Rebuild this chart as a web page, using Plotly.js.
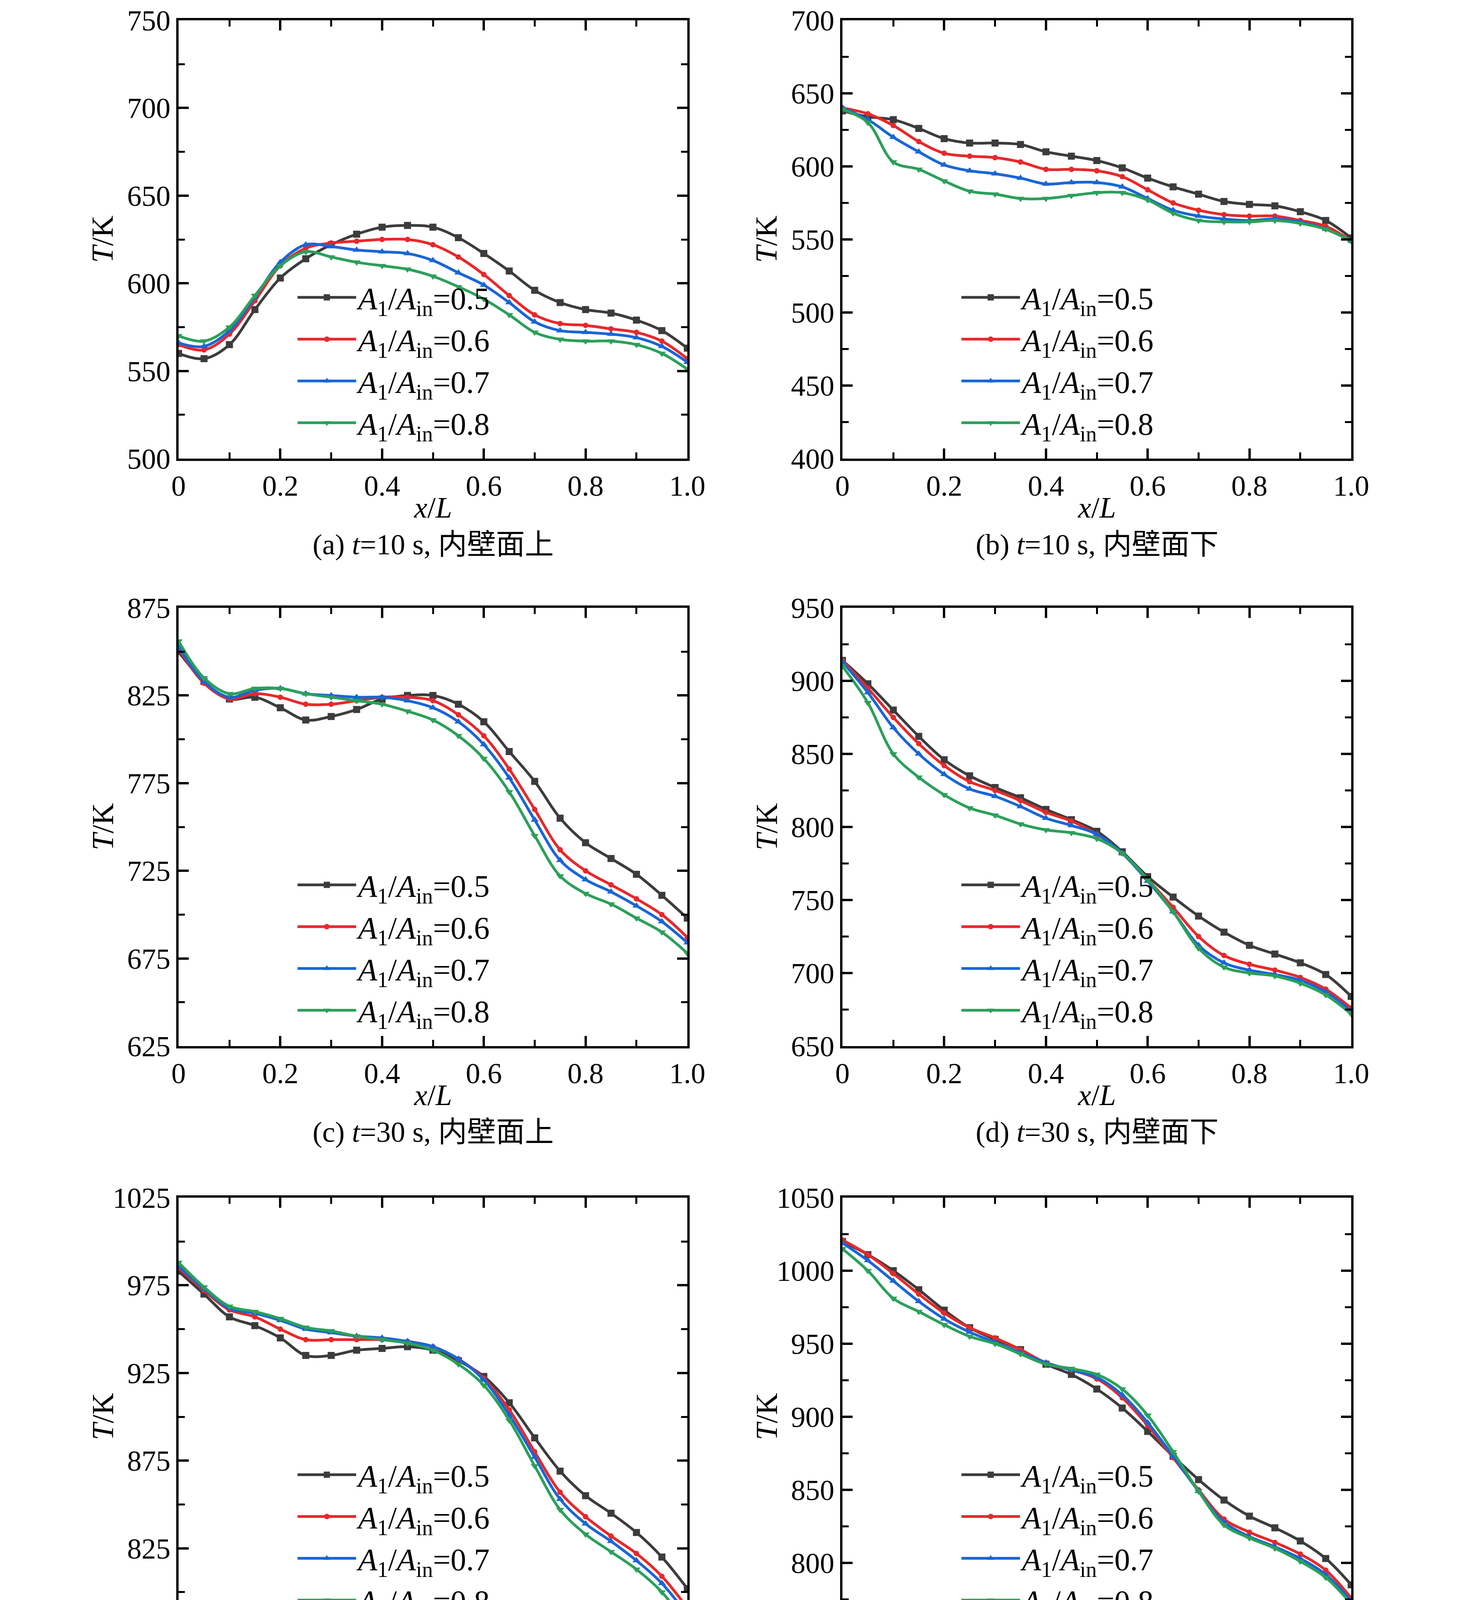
<!DOCTYPE html>
<html>
<head>
<meta charset="utf-8">
<script src="https://cdn.plot.ly/plotly-3.0.1.min.js"></script>
<style>body{margin:0;background:#fff}</style>
</head>
<body>
<div id="chart" style="width:3780px;height:7468px"></div>
<script>
var xs = [0,0.05,0.1,0.15,0.2,0.25,0.3,0.35,0.4,0.45,0.5,0.55,0.6,0.65,0.7,0.75,0.8,0.85,0.9,0.95,1.0];
var ratios = ['0.5','0.6','0.7','0.8'];
var colors = ['#3c3c3c','#e8282b','#1866d6','#2ba05a'];
var symbols = ['square','circle','triangle-up','triangle-down'];

// (a) t=10 s, upper
var a05 = [560,557,565,585,603,614,622,628,632,633,632,626,617,607,596,589,585,583,579,573,563];
var a06 = [565,562,571,590,610,620,623,624,625,625,622,615,605,593,582,577,576,574,572,567,557];
var a07 = [566,564,573,592,612,622,621,619,618,617,613,606,599,589,578,573,572,571,569,564,555];
var a08 = [570,567,575,593,610,618,615,612,610,608,604,598,591,582,572,568,567,567,565,560,551];
// (b) t=10 s, lower
var b05 = [638,634,632,626,619,616,616,615,610,607,604,599,592,586,581,576,574,573,569,563,551];
var b06 = [640,636,628,617,609,607,606,603,598,598,597,593,584,575,570,567,566,566,563,559,549];
var b07 = [640,632,620,610,601,597,595,592,588,589,589,586,578,570,566,564,563,564,562,557,549];
var b08 = [639,630,603,598,590,583,581,578,578,580,582,582,577,568,563,562,562,563,561,557,549];
// (c) t=30 s, upper
var c05 = [850,833,823,824,818,811,813,817,823,825,825,820,810,793,776,755,741,732,723,711,698];
var c06 = [852,832,823,826,824,820,820,822,824,824,822,814,802,783,760,737,725,717,709,700,687];
var c07 = [853,833,824,828,829,826,825,824,824,822,818,810,797,778,754,731,720,713,705,696,684];
var c08 = [856,835,826,829,829,826,824,822,820,816,811,802,789,770,745,722,712,706,698,690,678];
// (d) t=30 s, lower
var d05 = [914,898,880,862,846,835,827,820,812,805,797,783,766,752,739,728,719,713,707,699,684];
var d06 = [914,895,875,857,842,831,825,818,810,804,795,782,764,745,725,712,706,702,697,689,676];
var d07 = [913,892,868,850,836,826,821,814,806,801,795,782,763,742,719,707,702,699,695,687,674];
var d08 = [910,885,850,834,822,813,808,802,798,796,792,782,764,742,717,704,700,698,693,685,672];
// (e) t=50 s, upper
var e05 = [983,970,957,952,945,935,935,938,939,940,938,932,923,908,888,869,855,845,834,820,802];
var e06 = [985,972,961,957,950,944,944,944,944,943,940,933,922,904,880,857,843,832,822,809,791];
var e07 = [986,973,962,959,955,950,948,946,945,943,940,933,921,901,877,853,839,829,818,805,787];
var e08 = [988,974,963,960,956,951,949,946,944,942,938,930,918,898,872,847,833,823,813,800,781];
// (f) t=50 s, lower
var f05 = [1020,1011,1000,987,973,961,953,946,936,929,919,906,890,873,857,843,832,824,815,803,785];
var f06 = [1021,1011,998,984,971,961,954,946,937,932,926,913,894,872,850,830,821,814,806,795,776];
var f07 = [1019,1007,993,979,967,958,951,944,937,932,927,915,896,873,849,828,818,811,803,792,774];
var f08 = [1015,1000,981,972,963,955,950,943,936,933,929,919,901,876,849,826,817,810,801,790,772];
// (g) t=100 s, upper
var g05 = [1062,1060,1058,1055,1047,1040,1041,1042,1042,1042,1041,1038,1034,1024,1015,1002,993,983,973,958,942];
var g06 = [1062,1060,1058,1055,1051,1047,1047,1047,1046,1045,1043,1040,1035,1025,1014,1000,990,980,969,954,938];
var g07 = [1062,1060,1058,1056,1052,1049,1049,1048,1047,1046,1044,1041,1036,1025,1014,1000,989,979,968,953,936];
var g08 = [1062,1061,1059,1056,1053,1050,1050,1049,1048,1047,1045,1042,1036,1025,1013,999,988,978,967,951,934];
// (h) t=100 s, lower
var h05 = [1066,1065,1064,1062,1059,1056,1053,1050,1047,1044,1040,1034,1026,1016,1005,995,987,978,965,950,930];
var h06 = [1066,1065,1064,1062,1059,1057,1055,1052,1049,1046,1042,1036,1028,1017,1005,995,987,978,965,950,929];
var h07 = [1066,1065,1064,1062,1059,1057,1055,1052,1049,1046,1043,1037,1029,1018,1005,995,987,978,965,949,928];
var h08 = [1064,1064,1063,1061,1059,1057,1056,1053,1050,1047,1044,1039,1031,1019,1006,995,987,978,965,949,928];
// (i) t=300 s, upper
var i05 = [1068,1068,1068,1066,1060,1056,1059,1060,1060,1060,1059,1056,1052,1046,1041,1036,1030,1023,1013,997,977];
var i06 = [1068,1068,1068,1067,1064,1062,1063,1063,1063,1062,1061,1058,1054,1047,1041,1036,1030,1023,1013,997,977];
var i07 = [1069,1068,1068,1067,1065,1063,1064,1064,1064,1063,1062,1059,1055,1047,1041,1036,1030,1023,1013,997,977];
var i08 = [1068,1068,1068,1067,1065,1064,1065,1065,1065,1064,1063,1060,1055,1048,1041,1036,1029,1022,1012,997,977];
// (j) t=300 s, lower
var j05 = [1066,1066,1066,1065,1064,1063,1061,1059,1057,1055,1053,1050,1046,1042,1037,1032,1026,1019,1011,999,977];
var j06 = [1066,1066,1067,1066,1065,1064,1063,1061,1059,1057,1055,1051,1047,1042,1037,1032,1026,1019,1011,999,977];
var j07 = [1066,1066,1067,1067,1066,1065,1064,1062,1060,1058,1056,1052,1048,1043,1037,1032,1026,1019,1011,999,977];
var j08 = [1066,1067,1068,1068,1067,1065,1064,1062,1060,1058,1056,1052,1048,1043,1037,1032,1026,1019,1011,999,977];

var panels = [
    {series: [a05,a06,a07,a08], range: [500,750], cap: '(a) <i>t</i>=10 s, 内壁面上'},
    {series: [b05,b06,b07,b08], range: [400,700], cap: '(b) <i>t</i>=10 s, 内壁面下'},
    {series: [c05,c06,c07,c08], range: [625,875], cap: '(c) <i>t</i>=30 s, 内壁面上'},
    {series: [d05,d06,d07,d08], range: [650,950], cap: '(d) <i>t</i>=30 s, 内壁面下'},
    {series: [e05,e06,e07,e08], range: [775,1025], cap: '(e) <i>t</i>=50 s, 内壁面上'},
    {series: [f05,f06,f07,f08], range: [750,1050], cap: '(f) <i>t</i>=50 s, 内壁面下'},
    {series: [g05,g06,g07,g08], range: [825,1075], cap: '(g) <i>t</i>=100 s, 内壁面上'},
    {series: [h05,h06,h07,h08], range: [775,1075], cap: '(h) <i>t</i>=100 s, 内壁面下'},
    {series: [i05,i06,i07,i08], range: [825,1075], cap: '(i) <i>t</i>=300 s, 内壁面上'},
    {series: [j05,j06,j07,j08], range: [775,1075], cap: '(j) <i>t</i>=300 s, 内壁面下'}
];

var W = 3780, H = 7468;
var colLeft = [457, 2156], colWidth = 1302;
var rowTop = [52, 1556, 3066, 4580, 6093], rowHeight = 1122;
var FONT = 'Liberation Serif, Noto Sans CJK SC, serif';

var traces = [];
var layout = {
    width: W, height: H,
    margin: {l: 0, r: 0, t: 0, b: 0},
    paper_bgcolor: '#fff', plot_bgcolor: '#fff',
    font: {family: FONT, size: 72, color: '#000'},
    showlegend: true,
    annotations: []
};

for (let p = 0; p < panels.length; p++) {
    var col = p % 2, row = Math.floor(p / 2);
    var x0 = colLeft[col] / W, x1 = (colLeft[col] + colWidth) / W;
    var y1 = 1 - rowTop[row] / H, y0 = 1 - (rowTop[row] + rowHeight) / H;
    var n = p + 1;
    var sfx = (n == 1 ? '' : n);
    var lg = 'legend' + sfx;

    for (let s = 0; s < 4; s++) {
        traces.push({
            x: xs, y: panels[p].series[s],
            xaxis: 'x' + sfx, yaxis: 'y' + sfx,
            legend: lg,
            mode: 'lines+markers',
            name: '<i>A</i><sub>1</sub>/<i>A</i><sub>in</sub>=' + ratios[s],
            line: {color: colors[s], width: 7, shape: 'spline'},
            marker: {color: colors[s], symbol: symbols[s], size: s == 1 ? 14 : 18}
        });
    }

    var common = {
        showline: true, linecolor: '#000', linewidth: 6, mirror: 'ticks',
        ticks: 'inside', ticklen: 26, tickwidth: 6, tickcolor: '#000',
        showgrid: false, zeroline: false, fixedrange: true,
        tickfont: {family: FONT, size: 74}
    };
    layout['xaxis' + sfx] = Object.assign({}, common, {
        domain: [x0, x1], range: [0, 1], anchor: 'y' + sfx,
        tickvals: [0, 0.2, 0.4, 0.6, 0.8, 1.0], ticktext: ['0','0.2','0.4','0.6','0.8','1.0'],
        minor: {dtick: 0.1, tick0: 0, ticks: 'inside', ticklen: 16, tickwidth: 5, tickcolor: '#000'}
    });
    layout['yaxis' + sfx] = Object.assign({}, common, {
        domain: [y0, y1], range: panels[p].range, anchor: 'x' + sfx,
        tick0: panels[p].range[0], dtick: 50,
        minor: {dtick: 25, tick0: panels[p].range[0], ticks: 'inside', ticklen: 16, tickwidth: 5, tickcolor: '#000'}
    });

    layout[lg] = {
        x: x0 + 0.23 * (x1 - x0), y: y0 + 0.42 * (y1 - y0),
        xanchor: 'left', yanchor: 'top',
        bgcolor: 'rgba(0,0,0,0)', borderwidth: 0,
        itemwidth: 150, tracegroupgap: 0,
        font: {family: FONT, size: 80, color: '#000'}
    };

    layout.annotations.push({
        text: '<i>T</i>/K', textangle: -90, showarrow: false,
        xref: 'paper', yref: 'paper', x: (colLeft[col] - 195) / W, y: (y0 + y1) / 2,
        xanchor: 'center', yanchor: 'middle', font: {family: FONT, size: 78}
    });
    layout.annotations.push({
        text: '<i>x</i>/<i>L</i>', showarrow: false,
        xref: 'paper', yref: 'paper', x: (x0 + x1) / 2, y: y0 - 125 / H,
        xanchor: 'center', yanchor: 'middle', font: {family: FONT, size: 76}
    });
    layout.annotations.push({
        text: panels[p].cap, showarrow: false,
        xref: 'paper', yref: 'paper', x: (x0 + x1) / 2, y: y0 - 220 / H,
        xanchor: 'center', yanchor: 'middle', font: {family: FONT, size: 74}
    });
}

Plotly.newPlot('chart', traces, layout, {staticPlot: true});
</script>
</body>
</html>
